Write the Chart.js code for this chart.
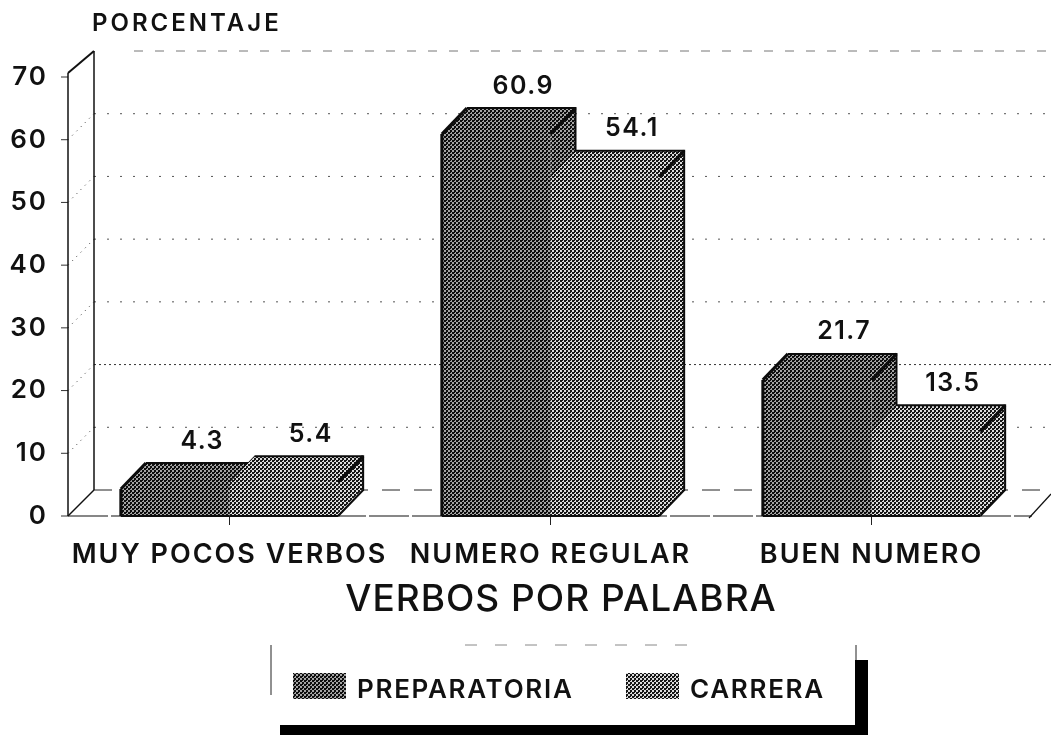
<!DOCTYPE html>
<html><head><meta charset="utf-8">
<style>html,body{margin:0;padding:0;background:#fff}#w{position:relative;width:1051px;height:735px}</style>
<script src="https://cdn.jsdelivr.net/npm/chart.js@4"></script>
</head><body><div id="w"><canvas id="c" width="1051" height="735"></canvas></div>
<script>
const categories = ['MUY POCOS VERBOS', 'NUMERO REGULAR', 'BUEN NUMERO'];
const preparatoria = [4.3, 60.9, 21.7];
const carrera = [5.4, 54.1, 13.5];
const yTicks = [0, 10, 20, 30, 40, 50, 60, 70];
const yAxisLabel = 'PORCENTAJE';
const xAxisLabel = 'VERBOS POR PALABRA';

const FONT = 'Inter, "Liberation Sans", Arial, sans-serif';
const DX = 25, DY = 26;

function dither(dark, light) {
  const t = document.createElement('canvas');
  t.width = t.height = 4;
  const g = t.getContext('2d');
  g.fillStyle = light; g.fillRect(0, 0, 4, 4);
  g.fillStyle = dark;
  g.fillRect(0, 0, 2, 2); g.fillRect(2, 2, 2, 2);
  g.fillRect(2, 0, 1, 1);
  return g.createPattern(t, 'repeat');
}
const canvas = document.getElementById('c');
const patPrep = dither('#0e0e0e', '#a4a4a4');
const patCarr = dither('#161616', '#dcdcdc');

function line(ctx, pts, dash, w, col) {
  ctx.save();
  ctx.beginPath();
  ctx.setLineDash(dash || []);
  ctx.lineWidth = w || 1;
  ctx.strokeStyle = col || '#111';
  pts.forEach((p, i) => i ? ctx.lineTo(p[0], p[1]) : ctx.moveTo(p[0], p[1]));
  ctx.stroke();
  ctx.restore();
}
function label(ctx, text, x, y, font, spacing, align) {
  ctx.font = font;
  ctx.letterSpacing = spacing + 'px';
  ctx.textAlign = align;
  ctx.fillText(text, x, y);
}

const wallsAndDepth = {
  id: 'wallsAndDepth',
  beforeDraw(chart) { chart.ctx.letterSpacing = '2px'; },
  beforeDatasetsDraw(chart) {
    const { ctx, scales: { x, y }, chartArea: a } = chart;
    const L = a.left - 1, R = a.right;
    const wallL = L + 26, wallR = 1051;
    const y0 = y.getPixelForValue(0);
    yTicks.forEach(v => {
      const py = y.getPixelForValue(v);
      line(ctx, [[L - 7, py], [L, py]], [], 1, '#333');
      if (v === 0) {
        line(ctx, [[wallL, py - DY], [wallR, py - DY]], [18, 14], 1, '#222');
      } else if (v === 70) {
        line(ctx, [[wallL + 40, py - DY], [wallR, py - DY]], [9, 12], 1, '#777');
        line(ctx, [[L, py - 4], [wallL, py - DY]], [], 2, '#111');
      } else {
        line(ctx, [[wallL, py - DY], [wallR, py - DY]], v === 20 ? [2, 3] : [2, 11], 1, v === 20 ? '#333' : '#555');
        line(ctx, [[L, py], [wallL, py - DY]], [1, 5], 1, '#333');
      }
    });
    line(ctx, [[L, y.getPixelForValue(70) - 4], [L, y0]], [], 1.5);
    line(ctx, [[wallL, y.getPixelForValue(70) - DY], [wallL, y0 - DY]], [], 1.5);
    line(ctx, [[L, y0], [wallL, y0 - DY]], [], 1.5);
    line(ctx, [[L, y0], [R, y0]], [40, 3], 1.2);
    line(ctx, [[R - 3, y0 + 2], [wallR, y0 - DY + 4]], [], 1.2);
    categories.forEach((c, i) => {
      const px = x.getPixelForValue(i);
      line(ctx, [[px, y0], [px, y0 + 9]], [], 1, '#222');
    });
    chart.data.datasets.forEach((ds, di) => {
      chart.getDatasetMeta(di).data.forEach(bar => {
        const xl = bar.x - bar.width / 2, xr = bar.x + bar.width / 2, t = bar.y, b = bar.base;
        ctx.save();
        ctx.fillStyle = ds.backgroundColor;
        ctx.beginPath();
        ctx.moveTo(xl, t); ctx.lineTo(xl + DX, t - DY); ctx.lineTo(xr + DX, t - DY);
        ctx.lineTo(xr + DX, b - DY); ctx.lineTo(xr, b); ctx.lineTo(xr, t); ctx.closePath();
        ctx.fill();
        ctx.restore();
        line(ctx, [[xl + DX, t - DY], [xr + DX, t - DY], [xr + DX, b - DY], [xr, b]], [], 2, '#0c0c0c');
        line(ctx, [[xl, t], [xl + DX, t - DY]], [], di === 0 ? 3 : 1, '#0c0c0c');
        line(ctx, [[xr, t], [xr + DX, t - DY]], [], 3, '#0c0c0c');
      });
    });
  },
  afterDatasetsDraw(chart) {
    const { ctx } = chart;
    ctx.save();
    chart.data.datasets.forEach((ds, di) => {
      chart.getDatasetMeta(di).data.forEach(bar => {
        const xl = bar.x - bar.width / 2, xr = bar.x + bar.width / 2;
        line(ctx, [[xl, bar.base], [xr, bar.base]], [], 2, '#0c0c0c');
        if (di === 0) line(ctx, [[xl, bar.y], [xl, bar.base]], [], 3, '#0c0c0c');
      });
    });
    ctx.fillStyle = '#111';
    ctx.textBaseline = 'middle';
    chart.data.datasets.forEach((ds, di) => {
      chart.getDatasetMeta(di).data.forEach((bar, i) => {
        label(ctx, ds.data[i].toFixed(1), bar.x + DX + 2, bar.y - DY - 22, '600 25px ' + FONT, 1.5, 'center');
      });
    });
    label(ctx, yAxisLabel, 92, 24, '600 24px ' + FONT, 3, 'left');
    label(ctx, xAxisLabel, 561, 600, '500 37px ' + FONT, 1, 'center');
    line(ctx, [[271, 645], [271, 695]], [], 1, '#222');
    line(ctx, [[465, 645], [690, 645]], [12, 18], 1, '#888');
    line(ctx, [[856, 645], [856, 662]], [], 1, '#222');
    ctx.fillStyle = '#000';
    ctx.fillRect(855, 660, 13, 75);
    ctx.fillRect(280, 725, 588, 10);
    const items = [[293, 357], [626, 690]];
    chart.data.datasets.forEach((ds, i) => {
      ctx.fillStyle = ds.backgroundColor;
      ctx.fillRect(items[i][0], 673, 53, 26);
      ctx.fillStyle = '#111';
      label(ctx, ds.label, items[i][1], 690, '600 26px ' + FONT, 1.7, 'left');
    });
    ctx.restore();
  }
};

new Chart(canvas, {
  type: 'bar',
  data: {
    labels: categories,
    datasets: [
      { label: 'PREPARATORIA', data: preparatoria, backgroundColor: patPrep, borderWidth: 0 },
      { label: 'CARRERA', data: carrera, backgroundColor: patCarr, borderWidth: 0 }
    ]
  },
  options: {
    responsive: false,
    animation: false,
    layout: { padding: { top: 77, right: 19, left: 0, bottom: 0 } },
    plugins: { legend: { display: false }, title: { display: false }, tooltip: { enabled: false } },
    datasets: { bar: { categoryPercentage: 0.677, barPercentage: 1 } },
    scales: {
      x: {
        afterFit(s) { s.height = 219; },
        grid: { display: false },
        border: { display: false },
        ticks: { color: '#111', font: { family: FONT, size: 27, weight: '600' }, padding: 15, maxRotation: 0, autoSkip: false }
      },
      y: {
        min: 0, max: 70,
        afterFit(s) { s.width = 69; },
        afterBuildTicks(s) { s.ticks = yTicks.map(v => ({ value: v })); },
        grid: { display: false },
        border: { display: false },
        ticks: { color: '#111', font: { family: FONT, size: 26, weight: '600' }, padding: 13 }
      }
    }
  },
  plugins: [wallsAndDepth]
});
</script></body></html>
